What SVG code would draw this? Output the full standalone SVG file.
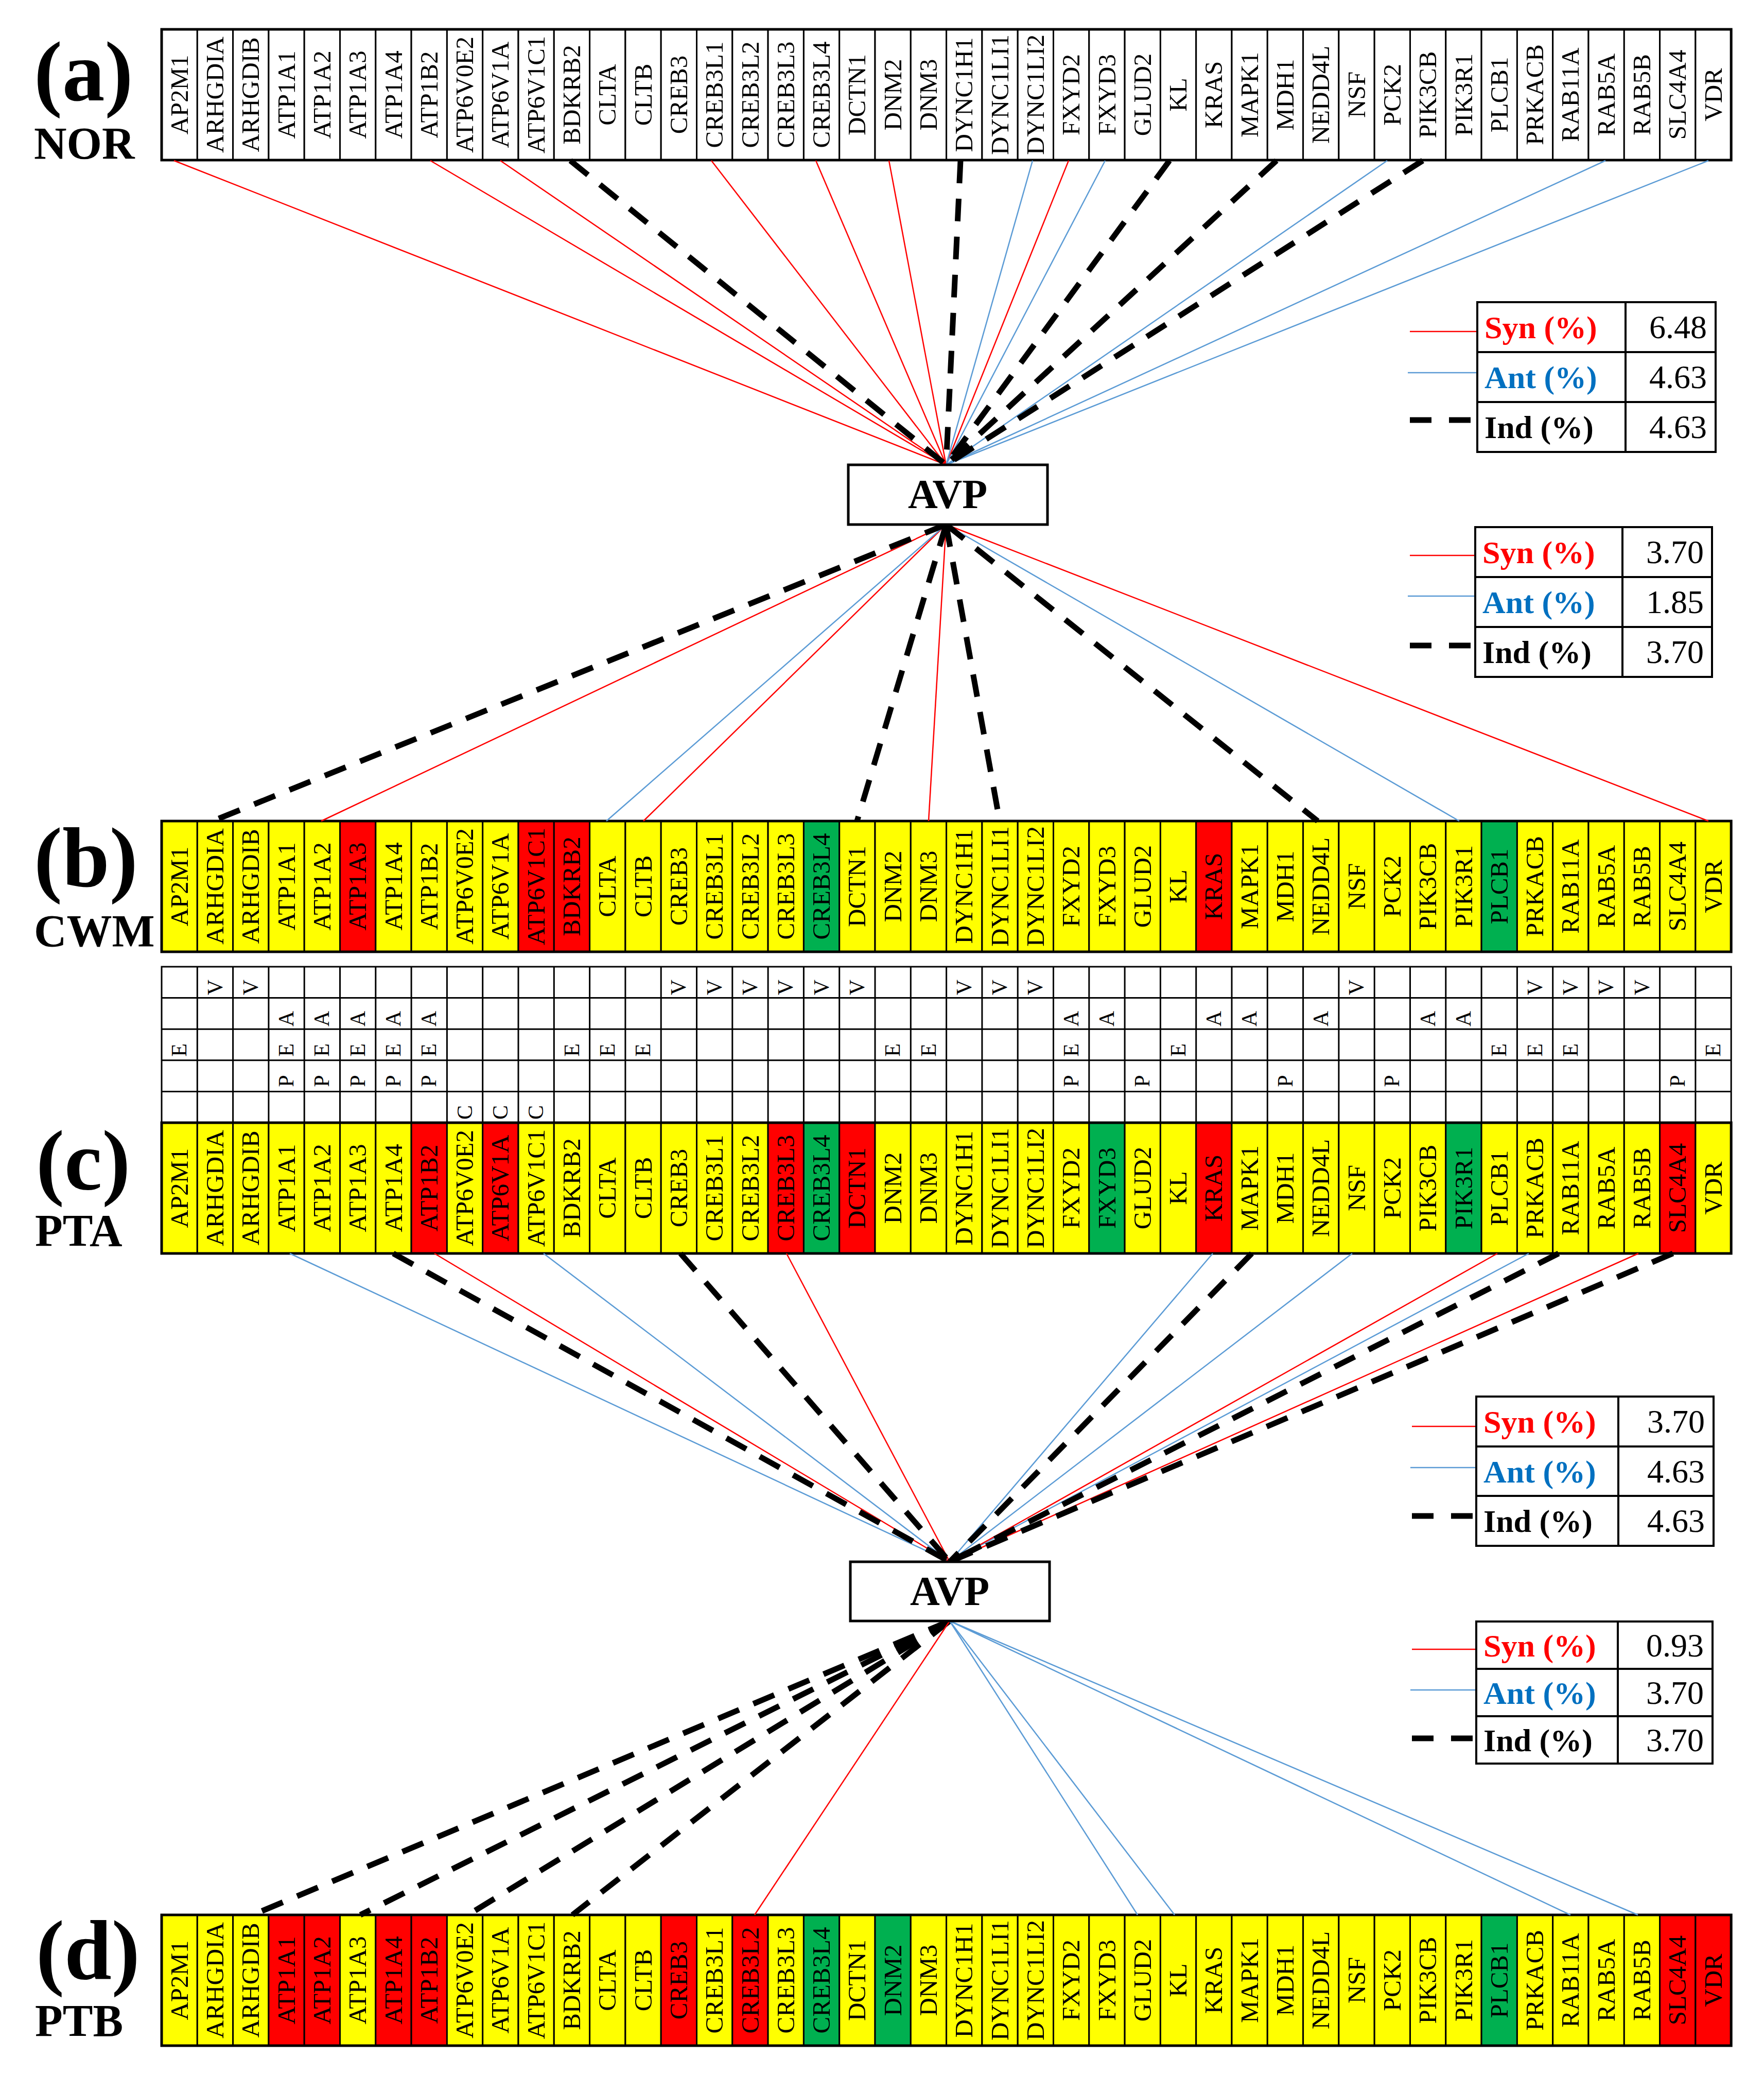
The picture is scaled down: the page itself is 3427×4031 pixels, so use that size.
<svg xmlns="http://www.w3.org/2000/svg" width="3427" height="4031" viewBox="0 0 3427 4031">
<style>
.cw{fill:#fff;stroke:#000;stroke-width:3}
.cy{fill:#ff0;stroke:#000;stroke-width:3}
.cr{fill:#f00;stroke:#000;stroke-width:3}
.cg{fill:#00b050;stroke:#000;stroke-width:3}
.tb{fill:none;stroke:#000;stroke-width:5}
.g{font-family:"Liberation Serif","Times New Roman",serif;font-size:49px;text-anchor:middle;fill:#000}
.lt{font-family:"Liberation Serif","Times New Roman",serif;font-size:42px;text-anchor:middle;fill:#000}
.lab{font-family:"Liberation Serif","Times New Roman",serif;font-weight:bold;fill:#000}
.avp{fill:#fff;stroke:#000;stroke-width:5}
.avpt{font-family:"Liberation Serif","Times New Roman",serif;font-weight:bold;font-size:80px;text-anchor:middle;fill:#000}
.lg{fill:#fff;stroke:#000;stroke-width:4}
.lgl{stroke:#000;stroke-width:4}
.lk{font-family:"Liberation Serif","Times New Roman",serif;font-weight:bold;font-size:62px}
.lv{font-family:"Liberation Serif","Times New Roman",serif;font-size:64px;text-anchor:end;fill:#000}
.syn{stroke:#f00;stroke-width:2.5;fill:none}
.ant{stroke:#5b9bd5;stroke-width:2.5;fill:none}
.ind{stroke:#000;stroke-width:11;stroke-dasharray:44 30;fill:none}
.kind{stroke:#000;stroke-width:11;stroke-dasharray:42 34;fill:none}
</style>
<rect x="0" y="0" width="3427" height="4031" fill="#fff"/>

<g id="labels">
<text class="lab" x="66" y="195" font-size="165">(a)</text>
<text class="lab" x="66" y="308" font-size="88">NOR</text>
<text class="lab" x="66" y="1722" font-size="165">(b)</text>
<text class="lab" x="66" y="1838" font-size="88">CWM</text>
<text class="lab" x="70" y="2310" font-size="165">(c)</text>
<text class="lab" x="68" y="2420" font-size="88">PTA</text>
<text class="lab" x="70" y="3845" font-size="165">(d)</text>
<text class="lab" x="68" y="3955" font-size="88">PTB</text>
</g>

<g id="table-a" transform="translate(0,57)">
<g id="a-AP2M1"><rect class="cw" x="314" y="0" width="69.3" height="254"/><text class="g" transform="translate(364.7,127) rotate(-90)">AP2M1</text></g>
<g id="a-ARHGDIA"><rect class="cw" x="383.3" y="0" width="69.3" height="254"/><text class="g" transform="translate(434,127) rotate(-90)">ARHGDIA</text></g>
<g id="a-ARHGDIB"><rect class="cw" x="452.6" y="0" width="69.3" height="254"/><text class="g" transform="translate(503.3,127) rotate(-90)">ARHGDIB</text></g>
<g id="a-ATP1A1"><rect class="cw" x="521.9" y="0" width="69.3" height="254"/><text class="g" transform="translate(572.6,127) rotate(-90)">ATP1A1</text></g>
<g id="a-ATP1A2"><rect class="cw" x="591.2" y="0" width="69.3" height="254"/><text class="g" transform="translate(641.9,127) rotate(-90)">ATP1A2</text></g>
<g id="a-ATP1A3"><rect class="cw" x="660.5" y="0" width="69.3" height="254"/><text class="g" transform="translate(711.2,127) rotate(-90)">ATP1A3</text></g>
<g id="a-ATP1A4"><rect class="cw" x="729.8" y="0" width="69.3" height="254"/><text class="g" transform="translate(780.5,127) rotate(-90)">ATP1A4</text></g>
<g id="a-ATP1B2"><rect class="cw" x="799.1" y="0" width="69.3" height="254"/><text class="g" transform="translate(849.8,127) rotate(-90)">ATP1B2</text></g>
<g id="a-ATP6V0E2"><rect class="cw" x="868.4" y="0" width="69.3" height="254"/><text class="g" transform="translate(919.1,127) rotate(-90)">ATP6V0E2</text></g>
<g id="a-ATP6V1A"><rect class="cw" x="937.7" y="0" width="69.3" height="254"/><text class="g" transform="translate(988.4,127) rotate(-90)">ATP6V1A</text></g>
<g id="a-ATP6V1C1"><rect class="cw" x="1007" y="0" width="69.3" height="254"/><text class="g" transform="translate(1057.7,127) rotate(-90)">ATP6V1C1</text></g>
<g id="a-BDKRB2"><rect class="cw" x="1076.3" y="0" width="69.3" height="254"/><text class="g" transform="translate(1127,127) rotate(-90)">BDKRB2</text></g>
<g id="a-CLTA"><rect class="cw" x="1145.6" y="0" width="69.3" height="254"/><text class="g" transform="translate(1196.3,127) rotate(-90)">CLTA</text></g>
<g id="a-CLTB"><rect class="cw" x="1214.9" y="0" width="69.3" height="254"/><text class="g" transform="translate(1265.6,127) rotate(-90)">CLTB</text></g>
<g id="a-CREB3"><rect class="cw" x="1284.2" y="0" width="69.3" height="254"/><text class="g" transform="translate(1334.9,127) rotate(-90)">CREB3</text></g>
<g id="a-CREB3L1"><rect class="cw" x="1353.5" y="0" width="69.3" height="254"/><text class="g" transform="translate(1404.2,127) rotate(-90)">CREB3L1</text></g>
<g id="a-CREB3L2"><rect class="cw" x="1422.8" y="0" width="69.3" height="254"/><text class="g" transform="translate(1473.5,127) rotate(-90)">CREB3L2</text></g>
<g id="a-CREB3L3"><rect class="cw" x="1492.1" y="0" width="69.3" height="254"/><text class="g" transform="translate(1542.8,127) rotate(-90)">CREB3L3</text></g>
<g id="a-CREB3L4"><rect class="cw" x="1561.4" y="0" width="69.3" height="254"/><text class="g" transform="translate(1612.1,127) rotate(-90)">CREB3L4</text></g>
<g id="a-DCTN1"><rect class="cw" x="1630.7" y="0" width="69.3" height="254"/><text class="g" transform="translate(1681.4,127) rotate(-90)">DCTN1</text></g>
<g id="a-DNM2"><rect class="cw" x="1700" y="0" width="69.3" height="254"/><text class="g" transform="translate(1750.7,127) rotate(-90)">DNM2</text></g>
<g id="a-DNM3"><rect class="cw" x="1769.3" y="0" width="69.3" height="254"/><text class="g" transform="translate(1820,127) rotate(-90)">DNM3</text></g>
<g id="a-DYNC1H1"><rect class="cw" x="1838.6" y="0" width="69.3" height="254"/><text class="g" transform="translate(1889.3,127) rotate(-90)">DYNC1H1</text></g>
<g id="a-DYNC1LI1"><rect class="cw" x="1907.9" y="0" width="69.3" height="254"/><text class="g" transform="translate(1958.6,127) rotate(-90)">DYNC1LI1</text></g>
<g id="a-DYNC1LI2"><rect class="cw" x="1977.2" y="0" width="69.3" height="254"/><text class="g" transform="translate(2027.9,127) rotate(-90)">DYNC1LI2</text></g>
<g id="a-FXYD2"><rect class="cw" x="2046.5" y="0" width="69.3" height="254"/><text class="g" transform="translate(2097.2,127) rotate(-90)">FXYD2</text></g>
<g id="a-FXYD3"><rect class="cw" x="2115.8" y="0" width="69.3" height="254"/><text class="g" transform="translate(2166.5,127) rotate(-90)">FXYD3</text></g>
<g id="a-GLUD2"><rect class="cw" x="2185.1" y="0" width="69.3" height="254"/><text class="g" transform="translate(2235.8,127) rotate(-90)">GLUD2</text></g>
<g id="a-KL"><rect class="cw" x="2254.4" y="0" width="69.3" height="254"/><text class="g" transform="translate(2305.1,127) rotate(-90)">KL</text></g>
<g id="a-KRAS"><rect class="cw" x="2323.7" y="0" width="69.3" height="254"/><text class="g" transform="translate(2374.4,127) rotate(-90)">KRAS</text></g>
<g id="a-MAPK1"><rect class="cw" x="2393" y="0" width="69.3" height="254"/><text class="g" transform="translate(2443.7,127) rotate(-90)">MAPK1</text></g>
<g id="a-MDH1"><rect class="cw" x="2462.3" y="0" width="69.3" height="254"/><text class="g" transform="translate(2513,127) rotate(-90)">MDH1</text></g>
<g id="a-NEDD4L"><rect class="cw" x="2531.6" y="0" width="69.3" height="254"/><text class="g" transform="translate(2582.3,127) rotate(-90)">NEDD4L</text></g>
<g id="a-NSF"><rect class="cw" x="2600.9" y="0" width="69.3" height="254"/><text class="g" transform="translate(2651.6,127) rotate(-90)">NSF</text></g>
<g id="a-PCK2"><rect class="cw" x="2670.2" y="0" width="69.3" height="254"/><text class="g" transform="translate(2720.9,127) rotate(-90)">PCK2</text></g>
<g id="a-PIK3CB"><rect class="cw" x="2739.5" y="0" width="69.3" height="254"/><text class="g" transform="translate(2790.2,127) rotate(-90)">PIK3CB</text></g>
<g id="a-PIK3R1"><rect class="cw" x="2808.8" y="0" width="69.3" height="254"/><text class="g" transform="translate(2859.5,127) rotate(-90)">PIK3R1</text></g>
<g id="a-PLCB1"><rect class="cw" x="2878.1" y="0" width="69.3" height="254"/><text class="g" transform="translate(2928.8,127) rotate(-90)">PLCB1</text></g>
<g id="a-PRKACB"><rect class="cw" x="2947.4" y="0" width="69.3" height="254"/><text class="g" transform="translate(2998.1,127) rotate(-90)">PRKACB</text></g>
<g id="a-RAB11A"><rect class="cw" x="3016.7" y="0" width="69.3" height="254"/><text class="g" transform="translate(3067.4,127) rotate(-90)">RAB11A</text></g>
<g id="a-RAB5A"><rect class="cw" x="3086" y="0" width="69.3" height="254"/><text class="g" transform="translate(3136.7,127) rotate(-90)">RAB5A</text></g>
<g id="a-RAB5B"><rect class="cw" x="3155.3" y="0" width="69.3" height="254"/><text class="g" transform="translate(3206,127) rotate(-90)">RAB5B</text></g>
<g id="a-SLC4A4"><rect class="cw" x="3224.6" y="0" width="69.3" height="254"/><text class="g" transform="translate(3275.3,127) rotate(-90)">SLC4A4</text></g>
<g id="a-VDR"><rect class="cw" x="3293.9" y="0" width="69.3" height="254"/><text class="g" transform="translate(3344.6,127) rotate(-90)">VDR</text></g>
<rect class="tb" x="314" y="0" width="3049.2" height="254"/>
</g>

<g id="table-b" transform="translate(0,1595)">
<g id="b-AP2M1"><rect class="cy" x="314" y="0" width="69.3" height="254"/><text class="g" transform="translate(364.7,127) rotate(-90)">AP2M1</text></g>
<g id="b-ARHGDIA"><rect class="cy" x="383.3" y="0" width="69.3" height="254"/><text class="g" transform="translate(434,127) rotate(-90)">ARHGDIA</text></g>
<g id="b-ARHGDIB"><rect class="cy" x="452.6" y="0" width="69.3" height="254"/><text class="g" transform="translate(503.3,127) rotate(-90)">ARHGDIB</text></g>
<g id="b-ATP1A1"><rect class="cy" x="521.9" y="0" width="69.3" height="254"/><text class="g" transform="translate(572.6,127) rotate(-90)">ATP1A1</text></g>
<g id="b-ATP1A2"><rect class="cy" x="591.2" y="0" width="69.3" height="254"/><text class="g" transform="translate(641.9,127) rotate(-90)">ATP1A2</text></g>
<g id="b-ATP1A3"><rect class="cr" x="660.5" y="0" width="69.3" height="254"/><text class="g" transform="translate(711.2,127) rotate(-90)">ATP1A3</text></g>
<g id="b-ATP1A4"><rect class="cy" x="729.8" y="0" width="69.3" height="254"/><text class="g" transform="translate(780.5,127) rotate(-90)">ATP1A4</text></g>
<g id="b-ATP1B2"><rect class="cy" x="799.1" y="0" width="69.3" height="254"/><text class="g" transform="translate(849.8,127) rotate(-90)">ATP1B2</text></g>
<g id="b-ATP6V0E2"><rect class="cy" x="868.4" y="0" width="69.3" height="254"/><text class="g" transform="translate(919.1,127) rotate(-90)">ATP6V0E2</text></g>
<g id="b-ATP6V1A"><rect class="cy" x="937.7" y="0" width="69.3" height="254"/><text class="g" transform="translate(988.4,127) rotate(-90)">ATP6V1A</text></g>
<g id="b-ATP6V1C1"><rect class="cr" x="1007" y="0" width="69.3" height="254"/><text class="g" transform="translate(1057.7,127) rotate(-90)">ATP6V1C1</text></g>
<g id="b-BDKRB2"><rect class="cr" x="1076.3" y="0" width="69.3" height="254"/><text class="g" transform="translate(1127,127) rotate(-90)">BDKRB2</text></g>
<g id="b-CLTA"><rect class="cy" x="1145.6" y="0" width="69.3" height="254"/><text class="g" transform="translate(1196.3,127) rotate(-90)">CLTA</text></g>
<g id="b-CLTB"><rect class="cy" x="1214.9" y="0" width="69.3" height="254"/><text class="g" transform="translate(1265.6,127) rotate(-90)">CLTB</text></g>
<g id="b-CREB3"><rect class="cy" x="1284.2" y="0" width="69.3" height="254"/><text class="g" transform="translate(1334.9,127) rotate(-90)">CREB3</text></g>
<g id="b-CREB3L1"><rect class="cy" x="1353.5" y="0" width="69.3" height="254"/><text class="g" transform="translate(1404.2,127) rotate(-90)">CREB3L1</text></g>
<g id="b-CREB3L2"><rect class="cy" x="1422.8" y="0" width="69.3" height="254"/><text class="g" transform="translate(1473.5,127) rotate(-90)">CREB3L2</text></g>
<g id="b-CREB3L3"><rect class="cy" x="1492.1" y="0" width="69.3" height="254"/><text class="g" transform="translate(1542.8,127) rotate(-90)">CREB3L3</text></g>
<g id="b-CREB3L4"><rect class="cg" x="1561.4" y="0" width="69.3" height="254"/><text class="g" transform="translate(1612.1,127) rotate(-90)">CREB3L4</text></g>
<g id="b-DCTN1"><rect class="cy" x="1630.7" y="0" width="69.3" height="254"/><text class="g" transform="translate(1681.4,127) rotate(-90)">DCTN1</text></g>
<g id="b-DNM2"><rect class="cy" x="1700" y="0" width="69.3" height="254"/><text class="g" transform="translate(1750.7,127) rotate(-90)">DNM2</text></g>
<g id="b-DNM3"><rect class="cy" x="1769.3" y="0" width="69.3" height="254"/><text class="g" transform="translate(1820,127) rotate(-90)">DNM3</text></g>
<g id="b-DYNC1H1"><rect class="cy" x="1838.6" y="0" width="69.3" height="254"/><text class="g" transform="translate(1889.3,127) rotate(-90)">DYNC1H1</text></g>
<g id="b-DYNC1LI1"><rect class="cy" x="1907.9" y="0" width="69.3" height="254"/><text class="g" transform="translate(1958.6,127) rotate(-90)">DYNC1LI1</text></g>
<g id="b-DYNC1LI2"><rect class="cy" x="1977.2" y="0" width="69.3" height="254"/><text class="g" transform="translate(2027.9,127) rotate(-90)">DYNC1LI2</text></g>
<g id="b-FXYD2"><rect class="cy" x="2046.5" y="0" width="69.3" height="254"/><text class="g" transform="translate(2097.2,127) rotate(-90)">FXYD2</text></g>
<g id="b-FXYD3"><rect class="cy" x="2115.8" y="0" width="69.3" height="254"/><text class="g" transform="translate(2166.5,127) rotate(-90)">FXYD3</text></g>
<g id="b-GLUD2"><rect class="cy" x="2185.1" y="0" width="69.3" height="254"/><text class="g" transform="translate(2235.8,127) rotate(-90)">GLUD2</text></g>
<g id="b-KL"><rect class="cy" x="2254.4" y="0" width="69.3" height="254"/><text class="g" transform="translate(2305.1,127) rotate(-90)">KL</text></g>
<g id="b-KRAS"><rect class="cr" x="2323.7" y="0" width="69.3" height="254"/><text class="g" transform="translate(2374.4,127) rotate(-90)">KRAS</text></g>
<g id="b-MAPK1"><rect class="cy" x="2393" y="0" width="69.3" height="254"/><text class="g" transform="translate(2443.7,127) rotate(-90)">MAPK1</text></g>
<g id="b-MDH1"><rect class="cy" x="2462.3" y="0" width="69.3" height="254"/><text class="g" transform="translate(2513,127) rotate(-90)">MDH1</text></g>
<g id="b-NEDD4L"><rect class="cy" x="2531.6" y="0" width="69.3" height="254"/><text class="g" transform="translate(2582.3,127) rotate(-90)">NEDD4L</text></g>
<g id="b-NSF"><rect class="cy" x="2600.9" y="0" width="69.3" height="254"/><text class="g" transform="translate(2651.6,127) rotate(-90)">NSF</text></g>
<g id="b-PCK2"><rect class="cy" x="2670.2" y="0" width="69.3" height="254"/><text class="g" transform="translate(2720.9,127) rotate(-90)">PCK2</text></g>
<g id="b-PIK3CB"><rect class="cy" x="2739.5" y="0" width="69.3" height="254"/><text class="g" transform="translate(2790.2,127) rotate(-90)">PIK3CB</text></g>
<g id="b-PIK3R1"><rect class="cy" x="2808.8" y="0" width="69.3" height="254"/><text class="g" transform="translate(2859.5,127) rotate(-90)">PIK3R1</text></g>
<g id="b-PLCB1"><rect class="cg" x="2878.1" y="0" width="69.3" height="254"/><text class="g" transform="translate(2928.8,127) rotate(-90)">PLCB1</text></g>
<g id="b-PRKACB"><rect class="cy" x="2947.4" y="0" width="69.3" height="254"/><text class="g" transform="translate(2998.1,127) rotate(-90)">PRKACB</text></g>
<g id="b-RAB11A"><rect class="cy" x="3016.7" y="0" width="69.3" height="254"/><text class="g" transform="translate(3067.4,127) rotate(-90)">RAB11A</text></g>
<g id="b-RAB5A"><rect class="cy" x="3086" y="0" width="69.3" height="254"/><text class="g" transform="translate(3136.7,127) rotate(-90)">RAB5A</text></g>
<g id="b-RAB5B"><rect class="cy" x="3155.3" y="0" width="69.3" height="254"/><text class="g" transform="translate(3206,127) rotate(-90)">RAB5B</text></g>
<g id="b-SLC4A4"><rect class="cy" x="3224.6" y="0" width="69.3" height="254"/><text class="g" transform="translate(3275.3,127) rotate(-90)">SLC4A4</text></g>
<g id="b-VDR"><rect class="cy" x="3293.9" y="0" width="69.3" height="254"/><text class="g" transform="translate(3344.6,127) rotate(-90)">VDR</text></g>
<rect class="tb" x="314" y="0" width="3049.2" height="254"/>
</g>

<g id="table-letters" transform="translate(0,1878)">
<rect class="cw" x="314" y="0" width="3049.2" height="303"/>
<path d="M383.3 0V303M452.6 0V303M521.9 0V303M591.2 0V303M660.5 0V303M729.8 0V303M799.1 0V303M868.4 0V303M937.7 0V303M1007 0V303M1076.3 0V303M1145.6 0V303M1214.9 0V303M1284.2 0V303M1353.5 0V303M1422.8 0V303M1492.1 0V303M1561.4 0V303M1630.7 0V303M1700 0V303M1769.3 0V303M1838.6 0V303M1907.9 0V303M1977.2 0V303M2046.5 0V303M2115.8 0V303M2185.1 0V303M2254.4 0V303M2323.7 0V303M2393 0V303M2462.3 0V303M2531.6 0V303M2600.9 0V303M2670.2 0V303M2739.5 0V303M2808.8 0V303M2878.1 0V303M2947.4 0V303M3016.7 0V303M3086 0V303M3155.3 0V303M3224.6 0V303M3293.9 0V303M314 60.6H3363.2M314 121.2H3363.2M314 181.8H3363.2M314 242.4H3363.2" stroke="#000" stroke-width="3" fill="none"/>
<g transform="translate(2.5,0)">
<g id="row-V">
<text class="lt" transform="translate(429,40) rotate(-90)">V</text>
<text class="lt" transform="translate(498.3,40) rotate(-90)">V</text>
<text class="lt" transform="translate(1329.9,40) rotate(-90)">V</text>
<text class="lt" transform="translate(1399.2,40) rotate(-90)">V</text>
<text class="lt" transform="translate(1468.5,40) rotate(-90)">V</text>
<text class="lt" transform="translate(1537.8,40) rotate(-90)">V</text>
<text class="lt" transform="translate(1607.1,40) rotate(-90)">V</text>
<text class="lt" transform="translate(1676.4,40) rotate(-90)">V</text>
<text class="lt" transform="translate(1884.3,40) rotate(-90)">V</text>
<text class="lt" transform="translate(1953.6,40) rotate(-90)">V</text>
<text class="lt" transform="translate(2022.9,40) rotate(-90)">V</text>
<text class="lt" transform="translate(2646.6,40) rotate(-90)">V</text>
<text class="lt" transform="translate(2993.1,40) rotate(-90)">V</text>
<text class="lt" transform="translate(3062.4,40) rotate(-90)">V</text>
<text class="lt" transform="translate(3131.7,40) rotate(-90)">V</text>
<text class="lt" transform="translate(3201,40) rotate(-90)">V</text>
</g>
<g id="row-A">
<text class="lt" transform="translate(567.6,101) rotate(-90)">A</text>
<text class="lt" transform="translate(636.9,101) rotate(-90)">A</text>
<text class="lt" transform="translate(706.2,101) rotate(-90)">A</text>
<text class="lt" transform="translate(775.5,101) rotate(-90)">A</text>
<text class="lt" transform="translate(844.8,101) rotate(-90)">A</text>
<text class="lt" transform="translate(2092.2,101) rotate(-90)">A</text>
<text class="lt" transform="translate(2161.5,101) rotate(-90)">A</text>
<text class="lt" transform="translate(2369.4,101) rotate(-90)">A</text>
<text class="lt" transform="translate(2438.7,101) rotate(-90)">A</text>
<text class="lt" transform="translate(2577.3,101) rotate(-90)">A</text>
<text class="lt" transform="translate(2785.2,101) rotate(-90)">A</text>
<text class="lt" transform="translate(2854.5,101) rotate(-90)">A</text>
</g>
<g id="row-E">
<text class="lt" transform="translate(359.7,162) rotate(-90)">E</text>
<text class="lt" transform="translate(567.6,162) rotate(-90)">E</text>
<text class="lt" transform="translate(636.9,162) rotate(-90)">E</text>
<text class="lt" transform="translate(706.2,162) rotate(-90)">E</text>
<text class="lt" transform="translate(775.5,162) rotate(-90)">E</text>
<text class="lt" transform="translate(844.8,162) rotate(-90)">E</text>
<text class="lt" transform="translate(1122,162) rotate(-90)">E</text>
<text class="lt" transform="translate(1191.3,162) rotate(-90)">E</text>
<text class="lt" transform="translate(1260.6,162) rotate(-90)">E</text>
<text class="lt" transform="translate(1745.7,162) rotate(-90)">E</text>
<text class="lt" transform="translate(1815,162) rotate(-90)">E</text>
<text class="lt" transform="translate(2092.2,162) rotate(-90)">E</text>
<text class="lt" transform="translate(2300.1,162) rotate(-90)">E</text>
<text class="lt" transform="translate(2923.8,162) rotate(-90)">E</text>
<text class="lt" transform="translate(2993.1,162) rotate(-90)">E</text>
<text class="lt" transform="translate(3062.4,162) rotate(-90)">E</text>
<text class="lt" transform="translate(3339.6,162) rotate(-90)">E</text>
</g>
<g id="row-P">
<text class="lt" transform="translate(567.6,222) rotate(-90)">P</text>
<text class="lt" transform="translate(636.9,222) rotate(-90)">P</text>
<text class="lt" transform="translate(706.2,222) rotate(-90)">P</text>
<text class="lt" transform="translate(775.5,222) rotate(-90)">P</text>
<text class="lt" transform="translate(844.8,222) rotate(-90)">P</text>
<text class="lt" transform="translate(2092.2,222) rotate(-90)">P</text>
<text class="lt" transform="translate(2230.8,222) rotate(-90)">P</text>
<text class="lt" transform="translate(2508,222) rotate(-90)">P</text>
<text class="lt" transform="translate(2715.9,222) rotate(-90)">P</text>
<text class="lt" transform="translate(3270.3,222) rotate(-90)">P</text>
</g>
<g id="row-C">
<text class="lt" transform="translate(914.1,283) rotate(-90)">C</text>
<text class="lt" transform="translate(983.4,283) rotate(-90)">C</text>
<text class="lt" transform="translate(1052.7,283) rotate(-90)">C</text>
</g>
</g>
</g>

<g id="table-c" transform="translate(0,2181)">
<g id="c-AP2M1"><rect class="cy" x="314" y="0" width="69.3" height="254"/><text class="g" transform="translate(364.7,127) rotate(-90)">AP2M1</text></g>
<g id="c-ARHGDIA"><rect class="cy" x="383.3" y="0" width="69.3" height="254"/><text class="g" transform="translate(434,127) rotate(-90)">ARHGDIA</text></g>
<g id="c-ARHGDIB"><rect class="cy" x="452.6" y="0" width="69.3" height="254"/><text class="g" transform="translate(503.3,127) rotate(-90)">ARHGDIB</text></g>
<g id="c-ATP1A1"><rect class="cy" x="521.9" y="0" width="69.3" height="254"/><text class="g" transform="translate(572.6,127) rotate(-90)">ATP1A1</text></g>
<g id="c-ATP1A2"><rect class="cy" x="591.2" y="0" width="69.3" height="254"/><text class="g" transform="translate(641.9,127) rotate(-90)">ATP1A2</text></g>
<g id="c-ATP1A3"><rect class="cy" x="660.5" y="0" width="69.3" height="254"/><text class="g" transform="translate(711.2,127) rotate(-90)">ATP1A3</text></g>
<g id="c-ATP1A4"><rect class="cy" x="729.8" y="0" width="69.3" height="254"/><text class="g" transform="translate(780.5,127) rotate(-90)">ATP1A4</text></g>
<g id="c-ATP1B2"><rect class="cr" x="799.1" y="0" width="69.3" height="254"/><text class="g" transform="translate(849.8,127) rotate(-90)">ATP1B2</text></g>
<g id="c-ATP6V0E2"><rect class="cy" x="868.4" y="0" width="69.3" height="254"/><text class="g" transform="translate(919.1,127) rotate(-90)">ATP6V0E2</text></g>
<g id="c-ATP6V1A"><rect class="cr" x="937.7" y="0" width="69.3" height="254"/><text class="g" transform="translate(988.4,127) rotate(-90)">ATP6V1A</text></g>
<g id="c-ATP6V1C1"><rect class="cy" x="1007" y="0" width="69.3" height="254"/><text class="g" transform="translate(1057.7,127) rotate(-90)">ATP6V1C1</text></g>
<g id="c-BDKRB2"><rect class="cy" x="1076.3" y="0" width="69.3" height="254"/><text class="g" transform="translate(1127,127) rotate(-90)">BDKRB2</text></g>
<g id="c-CLTA"><rect class="cy" x="1145.6" y="0" width="69.3" height="254"/><text class="g" transform="translate(1196.3,127) rotate(-90)">CLTA</text></g>
<g id="c-CLTB"><rect class="cy" x="1214.9" y="0" width="69.3" height="254"/><text class="g" transform="translate(1265.6,127) rotate(-90)">CLTB</text></g>
<g id="c-CREB3"><rect class="cy" x="1284.2" y="0" width="69.3" height="254"/><text class="g" transform="translate(1334.9,127) rotate(-90)">CREB3</text></g>
<g id="c-CREB3L1"><rect class="cy" x="1353.5" y="0" width="69.3" height="254"/><text class="g" transform="translate(1404.2,127) rotate(-90)">CREB3L1</text></g>
<g id="c-CREB3L2"><rect class="cy" x="1422.8" y="0" width="69.3" height="254"/><text class="g" transform="translate(1473.5,127) rotate(-90)">CREB3L2</text></g>
<g id="c-CREB3L3"><rect class="cr" x="1492.1" y="0" width="69.3" height="254"/><text class="g" transform="translate(1542.8,127) rotate(-90)">CREB3L3</text></g>
<g id="c-CREB3L4"><rect class="cg" x="1561.4" y="0" width="69.3" height="254"/><text class="g" transform="translate(1612.1,127) rotate(-90)">CREB3L4</text></g>
<g id="c-DCTN1"><rect class="cr" x="1630.7" y="0" width="69.3" height="254"/><text class="g" transform="translate(1681.4,127) rotate(-90)">DCTN1</text></g>
<g id="c-DNM2"><rect class="cy" x="1700" y="0" width="69.3" height="254"/><text class="g" transform="translate(1750.7,127) rotate(-90)">DNM2</text></g>
<g id="c-DNM3"><rect class="cy" x="1769.3" y="0" width="69.3" height="254"/><text class="g" transform="translate(1820,127) rotate(-90)">DNM3</text></g>
<g id="c-DYNC1H1"><rect class="cy" x="1838.6" y="0" width="69.3" height="254"/><text class="g" transform="translate(1889.3,127) rotate(-90)">DYNC1H1</text></g>
<g id="c-DYNC1LI1"><rect class="cy" x="1907.9" y="0" width="69.3" height="254"/><text class="g" transform="translate(1958.6,127) rotate(-90)">DYNC1LI1</text></g>
<g id="c-DYNC1LI2"><rect class="cy" x="1977.2" y="0" width="69.3" height="254"/><text class="g" transform="translate(2027.9,127) rotate(-90)">DYNC1LI2</text></g>
<g id="c-FXYD2"><rect class="cy" x="2046.5" y="0" width="69.3" height="254"/><text class="g" transform="translate(2097.2,127) rotate(-90)">FXYD2</text></g>
<g id="c-FXYD3"><rect class="cg" x="2115.8" y="0" width="69.3" height="254"/><text class="g" transform="translate(2166.5,127) rotate(-90)">FXYD3</text></g>
<g id="c-GLUD2"><rect class="cy" x="2185.1" y="0" width="69.3" height="254"/><text class="g" transform="translate(2235.8,127) rotate(-90)">GLUD2</text></g>
<g id="c-KL"><rect class="cy" x="2254.4" y="0" width="69.3" height="254"/><text class="g" transform="translate(2305.1,127) rotate(-90)">KL</text></g>
<g id="c-KRAS"><rect class="cr" x="2323.7" y="0" width="69.3" height="254"/><text class="g" transform="translate(2374.4,127) rotate(-90)">KRAS</text></g>
<g id="c-MAPK1"><rect class="cy" x="2393" y="0" width="69.3" height="254"/><text class="g" transform="translate(2443.7,127) rotate(-90)">MAPK1</text></g>
<g id="c-MDH1"><rect class="cy" x="2462.3" y="0" width="69.3" height="254"/><text class="g" transform="translate(2513,127) rotate(-90)">MDH1</text></g>
<g id="c-NEDD4L"><rect class="cy" x="2531.6" y="0" width="69.3" height="254"/><text class="g" transform="translate(2582.3,127) rotate(-90)">NEDD4L</text></g>
<g id="c-NSF"><rect class="cy" x="2600.9" y="0" width="69.3" height="254"/><text class="g" transform="translate(2651.6,127) rotate(-90)">NSF</text></g>
<g id="c-PCK2"><rect class="cy" x="2670.2" y="0" width="69.3" height="254"/><text class="g" transform="translate(2720.9,127) rotate(-90)">PCK2</text></g>
<g id="c-PIK3CB"><rect class="cy" x="2739.5" y="0" width="69.3" height="254"/><text class="g" transform="translate(2790.2,127) rotate(-90)">PIK3CB</text></g>
<g id="c-PIK3R1"><rect class="cg" x="2808.8" y="0" width="69.3" height="254"/><text class="g" transform="translate(2859.5,127) rotate(-90)">PIK3R1</text></g>
<g id="c-PLCB1"><rect class="cy" x="2878.1" y="0" width="69.3" height="254"/><text class="g" transform="translate(2928.8,127) rotate(-90)">PLCB1</text></g>
<g id="c-PRKACB"><rect class="cy" x="2947.4" y="0" width="69.3" height="254"/><text class="g" transform="translate(2998.1,127) rotate(-90)">PRKACB</text></g>
<g id="c-RAB11A"><rect class="cy" x="3016.7" y="0" width="69.3" height="254"/><text class="g" transform="translate(3067.4,127) rotate(-90)">RAB11A</text></g>
<g id="c-RAB5A"><rect class="cy" x="3086" y="0" width="69.3" height="254"/><text class="g" transform="translate(3136.7,127) rotate(-90)">RAB5A</text></g>
<g id="c-RAB5B"><rect class="cy" x="3155.3" y="0" width="69.3" height="254"/><text class="g" transform="translate(3206,127) rotate(-90)">RAB5B</text></g>
<g id="c-SLC4A4"><rect class="cr" x="3224.6" y="0" width="69.3" height="254"/><text class="g" transform="translate(3275.3,127) rotate(-90)">SLC4A4</text></g>
<g id="c-VDR"><rect class="cy" x="3293.9" y="0" width="69.3" height="254"/><text class="g" transform="translate(3344.6,127) rotate(-90)">VDR</text></g>
<rect class="tb" x="314" y="0" width="3049.2" height="254"/>
</g>

<g id="table-d" transform="translate(0,3720)">
<g id="d-AP2M1"><rect class="cy" x="314" y="0" width="69.3" height="254"/><text class="g" transform="translate(364.7,127) rotate(-90)">AP2M1</text></g>
<g id="d-ARHGDIA"><rect class="cy" x="383.3" y="0" width="69.3" height="254"/><text class="g" transform="translate(434,127) rotate(-90)">ARHGDIA</text></g>
<g id="d-ARHGDIB"><rect class="cy" x="452.6" y="0" width="69.3" height="254"/><text class="g" transform="translate(503.3,127) rotate(-90)">ARHGDIB</text></g>
<g id="d-ATP1A1"><rect class="cr" x="521.9" y="0" width="69.3" height="254"/><text class="g" transform="translate(572.6,127) rotate(-90)">ATP1A1</text></g>
<g id="d-ATP1A2"><rect class="cr" x="591.2" y="0" width="69.3" height="254"/><text class="g" transform="translate(641.9,127) rotate(-90)">ATP1A2</text></g>
<g id="d-ATP1A3"><rect class="cy" x="660.5" y="0" width="69.3" height="254"/><text class="g" transform="translate(711.2,127) rotate(-90)">ATP1A3</text></g>
<g id="d-ATP1A4"><rect class="cr" x="729.8" y="0" width="69.3" height="254"/><text class="g" transform="translate(780.5,127) rotate(-90)">ATP1A4</text></g>
<g id="d-ATP1B2"><rect class="cr" x="799.1" y="0" width="69.3" height="254"/><text class="g" transform="translate(849.8,127) rotate(-90)">ATP1B2</text></g>
<g id="d-ATP6V0E2"><rect class="cy" x="868.4" y="0" width="69.3" height="254"/><text class="g" transform="translate(919.1,127) rotate(-90)">ATP6V0E2</text></g>
<g id="d-ATP6V1A"><rect class="cy" x="937.7" y="0" width="69.3" height="254"/><text class="g" transform="translate(988.4,127) rotate(-90)">ATP6V1A</text></g>
<g id="d-ATP6V1C1"><rect class="cy" x="1007" y="0" width="69.3" height="254"/><text class="g" transform="translate(1057.7,127) rotate(-90)">ATP6V1C1</text></g>
<g id="d-BDKRB2"><rect class="cy" x="1076.3" y="0" width="69.3" height="254"/><text class="g" transform="translate(1127,127) rotate(-90)">BDKRB2</text></g>
<g id="d-CLTA"><rect class="cy" x="1145.6" y="0" width="69.3" height="254"/><text class="g" transform="translate(1196.3,127) rotate(-90)">CLTA</text></g>
<g id="d-CLTB"><rect class="cy" x="1214.9" y="0" width="69.3" height="254"/><text class="g" transform="translate(1265.6,127) rotate(-90)">CLTB</text></g>
<g id="d-CREB3"><rect class="cr" x="1284.2" y="0" width="69.3" height="254"/><text class="g" transform="translate(1334.9,127) rotate(-90)">CREB3</text></g>
<g id="d-CREB3L1"><rect class="cy" x="1353.5" y="0" width="69.3" height="254"/><text class="g" transform="translate(1404.2,127) rotate(-90)">CREB3L1</text></g>
<g id="d-CREB3L2"><rect class="cr" x="1422.8" y="0" width="69.3" height="254"/><text class="g" transform="translate(1473.5,127) rotate(-90)">CREB3L2</text></g>
<g id="d-CREB3L3"><rect class="cy" x="1492.1" y="0" width="69.3" height="254"/><text class="g" transform="translate(1542.8,127) rotate(-90)">CREB3L3</text></g>
<g id="d-CREB3L4"><rect class="cg" x="1561.4" y="0" width="69.3" height="254"/><text class="g" transform="translate(1612.1,127) rotate(-90)">CREB3L4</text></g>
<g id="d-DCTN1"><rect class="cy" x="1630.7" y="0" width="69.3" height="254"/><text class="g" transform="translate(1681.4,127) rotate(-90)">DCTN1</text></g>
<g id="d-DNM2"><rect class="cg" x="1700" y="0" width="69.3" height="254"/><text class="g" transform="translate(1750.7,127) rotate(-90)">DNM2</text></g>
<g id="d-DNM3"><rect class="cy" x="1769.3" y="0" width="69.3" height="254"/><text class="g" transform="translate(1820,127) rotate(-90)">DNM3</text></g>
<g id="d-DYNC1H1"><rect class="cy" x="1838.6" y="0" width="69.3" height="254"/><text class="g" transform="translate(1889.3,127) rotate(-90)">DYNC1H1</text></g>
<g id="d-DYNC1LI1"><rect class="cy" x="1907.9" y="0" width="69.3" height="254"/><text class="g" transform="translate(1958.6,127) rotate(-90)">DYNC1LI1</text></g>
<g id="d-DYNC1LI2"><rect class="cy" x="1977.2" y="0" width="69.3" height="254"/><text class="g" transform="translate(2027.9,127) rotate(-90)">DYNC1LI2</text></g>
<g id="d-FXYD2"><rect class="cy" x="2046.5" y="0" width="69.3" height="254"/><text class="g" transform="translate(2097.2,127) rotate(-90)">FXYD2</text></g>
<g id="d-FXYD3"><rect class="cy" x="2115.8" y="0" width="69.3" height="254"/><text class="g" transform="translate(2166.5,127) rotate(-90)">FXYD3</text></g>
<g id="d-GLUD2"><rect class="cy" x="2185.1" y="0" width="69.3" height="254"/><text class="g" transform="translate(2235.8,127) rotate(-90)">GLUD2</text></g>
<g id="d-KL"><rect class="cy" x="2254.4" y="0" width="69.3" height="254"/><text class="g" transform="translate(2305.1,127) rotate(-90)">KL</text></g>
<g id="d-KRAS"><rect class="cy" x="2323.7" y="0" width="69.3" height="254"/><text class="g" transform="translate(2374.4,127) rotate(-90)">KRAS</text></g>
<g id="d-MAPK1"><rect class="cy" x="2393" y="0" width="69.3" height="254"/><text class="g" transform="translate(2443.7,127) rotate(-90)">MAPK1</text></g>
<g id="d-MDH1"><rect class="cy" x="2462.3" y="0" width="69.3" height="254"/><text class="g" transform="translate(2513,127) rotate(-90)">MDH1</text></g>
<g id="d-NEDD4L"><rect class="cy" x="2531.6" y="0" width="69.3" height="254"/><text class="g" transform="translate(2582.3,127) rotate(-90)">NEDD4L</text></g>
<g id="d-NSF"><rect class="cy" x="2600.9" y="0" width="69.3" height="254"/><text class="g" transform="translate(2651.6,127) rotate(-90)">NSF</text></g>
<g id="d-PCK2"><rect class="cy" x="2670.2" y="0" width="69.3" height="254"/><text class="g" transform="translate(2720.9,127) rotate(-90)">PCK2</text></g>
<g id="d-PIK3CB"><rect class="cy" x="2739.5" y="0" width="69.3" height="254"/><text class="g" transform="translate(2790.2,127) rotate(-90)">PIK3CB</text></g>
<g id="d-PIK3R1"><rect class="cy" x="2808.8" y="0" width="69.3" height="254"/><text class="g" transform="translate(2859.5,127) rotate(-90)">PIK3R1</text></g>
<g id="d-PLCB1"><rect class="cg" x="2878.1" y="0" width="69.3" height="254"/><text class="g" transform="translate(2928.8,127) rotate(-90)">PLCB1</text></g>
<g id="d-PRKACB"><rect class="cy" x="2947.4" y="0" width="69.3" height="254"/><text class="g" transform="translate(2998.1,127) rotate(-90)">PRKACB</text></g>
<g id="d-RAB11A"><rect class="cy" x="3016.7" y="0" width="69.3" height="254"/><text class="g" transform="translate(3067.4,127) rotate(-90)">RAB11A</text></g>
<g id="d-RAB5A"><rect class="cy" x="3086" y="0" width="69.3" height="254"/><text class="g" transform="translate(3136.7,127) rotate(-90)">RAB5A</text></g>
<g id="d-RAB5B"><rect class="cy" x="3155.3" y="0" width="69.3" height="254"/><text class="g" transform="translate(3206,127) rotate(-90)">RAB5B</text></g>
<g id="d-SLC4A4"><rect class="cr" x="3224.6" y="0" width="69.3" height="254"/><text class="g" transform="translate(3275.3,127) rotate(-90)">SLC4A4</text></g>
<g id="d-VDR"><rect class="cr" x="3293.9" y="0" width="69.3" height="254"/><text class="g" transform="translate(3344.6,127) rotate(-90)">VDR</text></g>
<rect class="tb" x="314" y="0" width="3049.2" height="254"/>
</g>

<g id="connectors">
<g id="conn-a">
<line class="syn" x1="338" y1="312" x2="1838" y2="903"/>
<line class="syn" x1="836" y1="312" x2="1838" y2="903"/>
<line class="syn" x1="972" y1="312" x2="1838" y2="903"/>
<line class="syn" x1="1382" y1="312" x2="1838" y2="903"/>
<line class="syn" x1="1585" y1="312" x2="1838" y2="903"/>
<line class="syn" x1="1727" y1="312" x2="1838" y2="903"/>
<line class="syn" x1="2076" y1="312" x2="1838" y2="903"/>
<line class="ant" x1="2006" y1="312" x2="1838" y2="903"/>
<line class="ant" x1="2147" y1="312" x2="1838" y2="903"/>
<line class="ant" x1="2695" y1="312" x2="1838" y2="903"/>
<line class="ant" x1="3119" y1="312" x2="1838" y2="903"/>
<line class="ant" x1="3319" y1="312" x2="1838" y2="903"/>
<line class="ind" x1="1108" y1="312" x2="1838" y2="903"/>
<line class="ind" x1="1866" y1="312" x2="1838" y2="903"/>
<line class="ind" x1="2272" y1="312" x2="1838" y2="903"/>
<line class="ind" x1="2480" y1="312" x2="1838" y2="903"/>
<line class="ind" x1="2764" y1="312" x2="1838" y2="903"/>
</g>
<g id="conn-b">
<line class="syn" x1="1838" y1="1019" x2="624" y2="1595"/>
<line class="syn" x1="1838" y1="1019" x2="1250" y2="1595"/>
<line class="syn" x1="1838" y1="1019" x2="1804" y2="1595"/>
<line class="syn" x1="1838" y1="1019" x2="3319" y2="1595"/>
<line class="ant" x1="1838" y1="1019" x2="1178" y2="1595"/>
<line class="ant" x1="1838" y1="1019" x2="2835" y2="1595"/>
<line class="ind" x1="1838" y1="1019" x2="413" y2="1595"/>
<line class="ind" x1="1838" y1="1019" x2="1665" y2="1595"/>
<line class="ind" x1="1838" y1="1019" x2="1942" y2="1595"/>
<line class="ind" x1="1838" y1="1019" x2="2560" y2="1595"/>
</g>
<g id="conn-c">
<line class="ant" x1="563" y1="2435" x2="1845" y2="3034"/>
<line class="ant" x1="1056" y1="2435" x2="1845" y2="3034"/>
<line class="ant" x1="2356" y1="2435" x2="1845" y2="3034"/>
<line class="ant" x1="2627" y1="2435" x2="1845" y2="3034"/>
<line class="ant" x1="2970" y1="2435" x2="1845" y2="3034"/>
<line class="syn" x1="844" y1="2435" x2="1845" y2="3034"/>
<line class="syn" x1="1528" y1="2435" x2="1845" y2="3034"/>
<line class="syn" x1="2909" y1="2435" x2="1845" y2="3034"/>
<line class="syn" x1="3183" y1="2435" x2="1845" y2="3034"/>
<line class="ind" x1="764" y1="2435" x2="1845" y2="3034"/>
<line class="ind" x1="1322" y1="2435" x2="1845" y2="3034"/>
<line class="ind" x1="2432" y1="2435" x2="1845" y2="3034"/>
<line class="ind" x1="3028" y1="2435" x2="1845" y2="3034"/>
<line class="ind" x1="3250" y1="2435" x2="1845" y2="3034"/>
</g>
<g id="conn-d">
<line class="ind" x1="1845" y1="3149" x2="491" y2="3720"/>
<line class="ind" x1="1845" y1="3149" x2="700" y2="3720"/>
<line class="ind" x1="1845" y1="3149" x2="909" y2="3720"/>
<line class="ind" x1="1845" y1="3149" x2="1112" y2="3720"/>
<line class="syn" x1="1845" y1="3149" x2="1466" y2="3720"/>
<line class="ant" x1="1845" y1="3149" x2="2210" y2="3720"/>
<line class="ant" x1="1845" y1="3149" x2="2282" y2="3720"/>
<line class="ant" x1="1845" y1="3149" x2="3051" y2="3720"/>
<line class="ant" x1="1845" y1="3149" x2="3182" y2="3720"/>
</g>
</g>

<g id="avp-1">
<rect class="avp" x="1648" y="903" width="387" height="116"/>
<text class="avpt" x="1841" y="987">AVP</text>
</g>
<g id="avp-2">
<rect class="avp" x="1652" y="3034" width="387" height="115"/>
<text class="avpt" x="1845" y="3118">AVP</text>
</g>

<g id="legend-a">
<line class="syn" x1="2739" y1="644" x2="2870" y2="644"/>
<line class="ant" x1="2735" y1="724" x2="2870" y2="724"/>
<line class="kind" x1="2739" y1="816" x2="2863" y2="816"/>
<rect class="lg" x="2870" y="587" width="463" height="291"/>
<path class="lgl" d="M3158 587V878M2870 684H3333M2870 781H3333"/>
<text class="lk" x="2884" y="657" fill="#ff0000">Syn (%)</text>
<text class="lk" x="2884" y="754" fill="#0070c0">Ant (%)</text>
<text class="lk" x="2884" y="851" fill="#000">Ind (%)</text>
<text class="lv" x="3316" y="657">6.48</text>
<text class="lv" x="3316" y="754">4.63</text>
<text class="lv" x="3316" y="851">4.63</text>
</g>
<g id="legend-b">
<line class="syn" x1="2739" y1="1079" x2="2866" y2="1079"/>
<line class="ant" x1="2735" y1="1158" x2="2866" y2="1158"/>
<line class="kind" x1="2739" y1="1254" x2="2859" y2="1254"/>
<rect class="lg" x="2866" y="1024" width="460" height="291"/>
<path class="lgl" d="M3152 1024V1315M2866 1121H3326M2866 1218H3326"/>
<text class="lk" x="2880" y="1094" fill="#ff0000">Syn (%)</text>
<text class="lk" x="2880" y="1191" fill="#0070c0">Ant (%)</text>
<text class="lk" x="2880" y="1288" fill="#000">Ind (%)</text>
<text class="lv" x="3310" y="1094">3.70</text>
<text class="lv" x="3310" y="1191">1.85</text>
<text class="lv" x="3310" y="1288">3.70</text>
</g>
<g id="legend-c">
<line class="syn" x1="2743" y1="2771" x2="2868" y2="2771"/>
<line class="ant" x1="2740" y1="2851" x2="2868" y2="2851"/>
<line class="kind" x1="2743" y1="2945" x2="2863" y2="2945"/>
<rect class="lg" x="2868" y="2713" width="461" height="290"/>
<path class="lgl" d="M3144 2713V3003M2868 2810H3329M2868 2906H3329"/>
<text class="lk" x="2882" y="2783" fill="#ff0000">Syn (%)</text>
<text class="lk" x="2882" y="2880" fill="#0070c0">Ant (%)</text>
<text class="lk" x="2882" y="2976" fill="#000">Ind (%)</text>
<text class="lv" x="3312" y="2783">3.70</text>
<text class="lv" x="3312" y="2880">4.63</text>
<text class="lv" x="3312" y="2976">4.63</text>
</g>
<g id="legend-d">
<line class="syn" x1="2743" y1="3204" x2="2868" y2="3204"/>
<line class="ant" x1="2740" y1="3283" x2="2868" y2="3283"/>
<line class="kind" x1="2743" y1="3377" x2="2863" y2="3377"/>
<rect class="lg" x="2868" y="3150" width="459" height="276"/>
<path class="lgl" d="M3143 3150V3426M2868 3242H3327M2868 3334H3327"/>
<text class="lk" x="2882" y="3218" fill="#ff0000">Syn (%)</text>
<text class="lk" x="2882" y="3310" fill="#0070c0">Ant (%)</text>
<text class="lk" x="2882" y="3402" fill="#000">Ind (%)</text>
<text class="lv" x="3310" y="3218">0.93</text>
<text class="lv" x="3310" y="3310">3.70</text>
<text class="lv" x="3310" y="3402">3.70</text>
</g>
</svg>
